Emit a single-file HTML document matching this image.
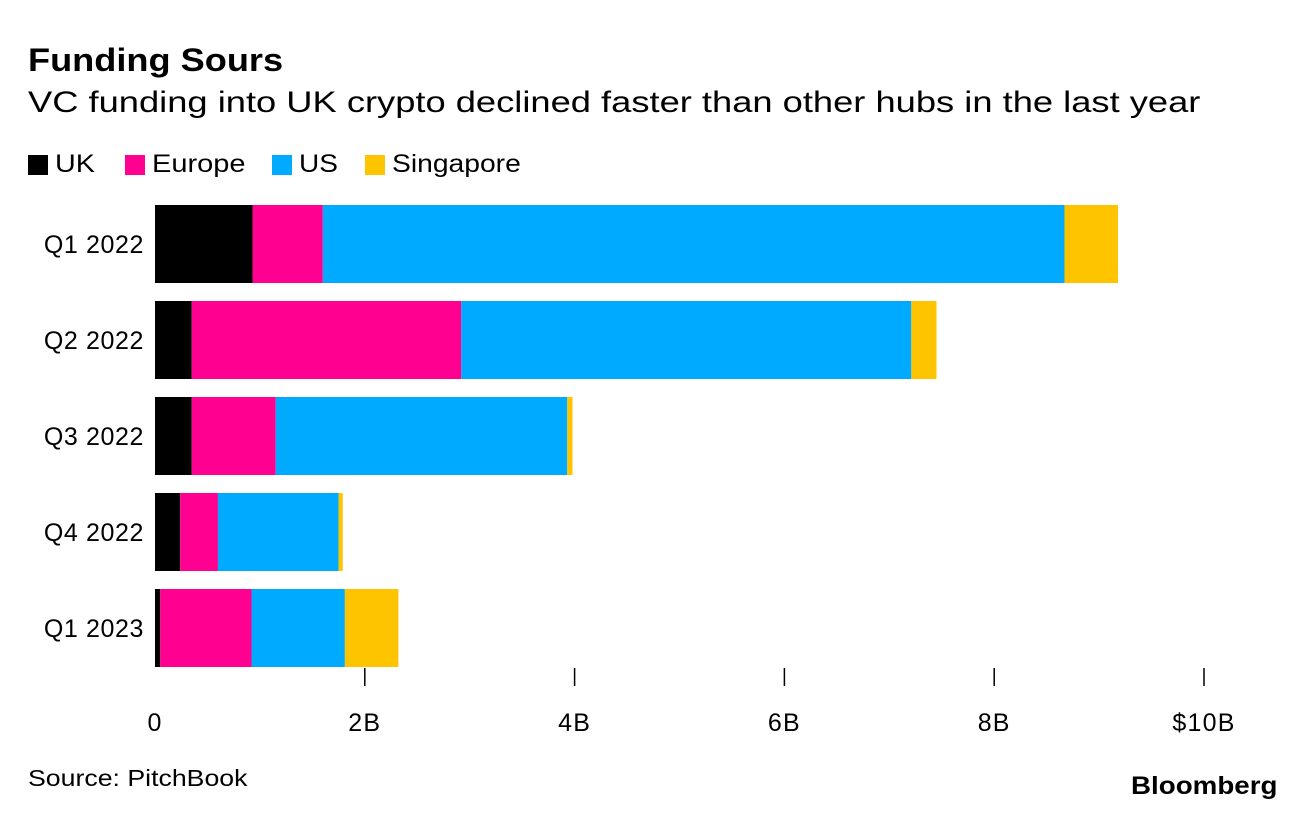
<!DOCTYPE html>
<html><head><meta charset="utf-8"><style>
body{margin:0;background:#fff;font-family:"Liberation Sans",sans-serif;}
#wrap{position:relative;width:1296px;height:820px;overflow:hidden;}
.t{position:absolute;white-space:nowrap;color:#000;transform-origin:left top;}
</style></head><body>
<div id="wrap">
<div class="t" style="left:28px;top:42px;font-size:32px;font-weight:bold;transform:scaleX(1.13)">Funding Sours</div>
<div class="t" style="left:28px;top:86px;font-size:30px;transform:scaleX(1.21)">VC funding into UK crypto declined faster than other hubs in the last year</div>
<div id="legend" style="position:absolute;left:0;top:150px;font-size:25px;"></div>
<svg id="chart" width="1296" height="820" style="position:absolute;left:0;top:0"></svg>
<div class="t" style="left:28px;top:765px;font-size:23px;transform:scaleX(1.16)">Source: PitchBook</div>
<div class="t" style="left:1131px;top:772px;font-size:25px;font-weight:bold;transform:scaleX(1.11)">Bloomberg</div>
</div>
<script>
const categories=["Q1 2022","Q2 2022","Q3 2022","Q4 2022","Q1 2023"];
const seriesNames=["UK","Europe","US","Singapore"];
const seriesColors=["#000000","#ff0090","#00aaff","#ffc400"];
const ukVals=[0.93,0.35,0.35,0.24,0.05];
const europeVals=[0.67,2.57,0.80,0.36,0.87];
const usVals=[7.07,4.29,2.78,1.15,0.89];
const singaporeVals=[0.51,0.24,0.05,0.04,0.51];
const tickVals=[0,2,4,6,8,10];
const tickLabels=["0","2B","4B","6B","8B","$10B"];
const series=[ukVals,europeVals,usVals,singaporeVals];
const NS="http://www.w3.org/2000/svg";
const svg=document.getElementById('chart');
const x0=155,pxPer=104.9;
const X=v=>x0+v*pxPer;
const Y=i=>205+i*96;
const bh=78;
function mk(t,a){const e=document.createElementNS(NS,t);for(const k in a)e.setAttribute(k,a[k]);svg.appendChild(e);return e;}
categories.forEach((c,i)=>{
  let cum=0;
  series.forEach((s,j)=>{
    const r=mk('rect',{x:X(cum),y:Y(i),width:Math.max(0,X(cum+s[i])-X(cum)),height:bh,fill:seriesColors[j]});
    
    
    cum+=s[i];
  });
  const t=mk('text',{x:144,y:Y(i)+bh/2+9,'text-anchor':'end','font-size':25,'letter-spacing':0.6,'font-family':'Liberation Sans, sans-serif'});
  t.textContent=c;
  
  
});
tickVals.forEach((v,k)=>{
  if(v>0){const l=mk('line',{x1:X(v),x2:X(v),y1:668,y2:686,stroke:'#000','stroke-width':1.5});
  
  }
  const t=mk('text',{x:X(v),y:731,'text-anchor':'middle','font-size':25,'letter-spacing':1.2,'font-family':'Liberation Sans, sans-serif'});
  t.textContent=tickLabels[k];
  
  
});
const lg=document.getElementById('legend');
const legX=[28,125,272,365];
const legScale=[1.15,1.16,1.12,1.13];
seriesNames.forEach((n,j)=>{
  const s=document.createElement('span');
  
  
  s.style.cssText='position:absolute;left:'+legX[j]+'px;top:0;display:flex;align-items:center;white-space:nowrap';
  s.innerHTML='<span style="display:inline-block;width:20px;height:20px;background:'+seriesColors[j]+';margin-right:7px"></span><span style="display:inline-block;transform:scaleX('+legScale[j]+');transform-origin:left center">'+n+'</span>';
  lg.appendChild(s);
});
</script>
</body></html>
